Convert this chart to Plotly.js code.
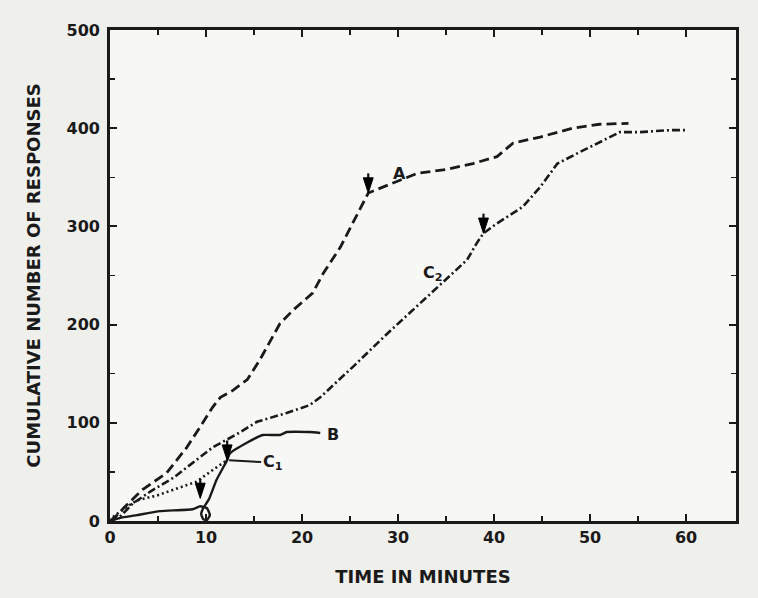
<!DOCTYPE html>
<html>
<head>
<meta charset="utf-8">
<script src="https://cdn.plot.ly/plotly-3.0.1.min.js"></script>
<style>
  html, body { margin: 0; padding: 0; background: #efefec; }
  #chart { width: 758px; height: 598px; }
</style>
</head>
<body>
<div id="chart"></div>
<script>
// Curve A (dashed)
const timeA = [0, 1, 1.4, 3.4, 5.9, 8, 9.4, 10.7, 11.5, 12.8, 14.3, 15.6, 17.7, 19.1, 21.1, 22.2, 24, 26, 26.9, 30.2, 32, 35, 37.8, 40.3, 42, 44.8, 48.2, 51, 54];
const respA = [0, 8, 13, 32, 49, 75, 96, 116, 126, 133, 144, 164, 201, 215, 232, 252, 279, 317, 334, 347, 354, 358, 364, 371, 385, 391, 400, 404, 405];

// Curve B (solid)
const timeB = [0, 1, 2.8, 5.2, 8.6, 9.4, 10.1, 10.4, 10.1, 9.7, 9.5, 9.7, 10.3, 11.1, 12.2, 12.5, 14.3, 15.9, 17.7, 18.4, 20.8, 21.9];
const respB = [0, 3, 6, 10, 12, 15, 13, 6, 1, 2, 7, 13, 22, 42, 62, 69, 80, 87.6, 87.6, 90.6, 90.6, 89.6];

// Curve C1 (dotted)
const timeC1 = [0, 0.3, 1.5, 2.8, 4.9, 7.3, 9, 10.7, 12.2];
const respC1 = [0, 4, 13, 21, 26, 34, 40, 52, 62];

// Curve C2 (dash-dot)
const timeC2 = [0, 1, 2.4, 4.2, 6.6, 8.6, 10.7, 13.5, 15.3, 18.4, 20.8, 21.9, 25.3, 28.9, 33, 35.7, 37.2, 38.2, 38.9, 40.3, 43, 44.8, 46.6, 49, 51.4, 53.1, 55.2, 58.3, 60];
const respC2 = [0, 4, 18, 30, 44, 59, 75, 90, 101, 110, 118, 126, 157, 191, 228, 252, 266, 283, 293, 303, 320, 340, 364, 376, 388, 396, 396, 398, 398];

// Arrow marks: time and response value at the arrow tip
const arrowTimes = [26.9, 38.9, 12.2, 9.4];
const arrowResp = [334, 293, 62, 23];
const arrowShaft = 20; // shaft length in response units

// Curve labels
const labelText = ['A', 'B', 'C<sub>2</sub>'];
const labelTime = [29.3, 22.4, 32.4];
const labelResp = [354, 88, 252];

const ink = '#1a1a1a';
const font = 'DejaVu Sans, Verdana, sans-serif';

// build arrow segments from the arrow arrays
const arrX = [], arrY = [], arrSize = [];
for (let i = 0; i < arrowTimes.length; i++) {
  arrX.push(arrowTimes[i], arrowTimes[i], null);
  arrY.push(arrowResp[i] + arrowShaft, arrowResp[i], null);
  arrSize.push(0, 16, 0);
}

const traces = [
  {x: timeA, y: respA, mode: 'lines', line: {color: ink, width: 2.8, dash: '10px,5px'}, name: 'A'},
  {x: timeB, y: respB, mode: 'lines', line: {color: ink, width: 2.4, shape: 'spline', smoothing: 0.4}, name: 'B'},
  {x: timeC1, y: respC1, mode: 'lines', line: {color: ink, width: 2.6, dash: '2px,3px'}, name: 'C1'},
  {x: timeC2, y: respC2, mode: 'lines', line: {color: ink, width: 2.6, dash: '8px,3px,2px,3px'}, name: 'C2'},
  {x: arrX, y: arrY, mode: 'lines+markers', line: {color: '#111', width: 2.2},
   marker: {symbol: 'arrow', angleref: 'previous', size: arrSize, color: '#000', opacity: 1, line: {color: '#000', width: 1}},
   connectgaps: false, name: 'arrows'}
];

const annotations = [];
for (let i = 0; i < labelText.length; i++) {
  annotations.push({
    x: labelTime[i], y: labelResp[i], xref: 'x', yref: 'y',
    text: labelText[i], showarrow: false, xanchor: 'left',
    font: {family: font, size: 16, color: ink, weight: 'bold'}
  });
}
// C1 label with leader line
annotations.push({
  x: 12.2, y: 62, xref: 'x', yref: 'y', text: 'C<sub>1</sub>',
  showarrow: true, arrowhead: 0, arrowwidth: 2, arrowcolor: ink,
  ax: 34, ay: 2, xanchor: 'left', standoff: 2,
  font: {family: font, size: 16, color: ink, weight: 'bold'}
});

const axisCommon = {
  showgrid: false, zeroline: false, showline: true, linecolor: ink, linewidth: 2.8,
  mirror: 'ticks', ticks: 'inside', ticklen: 7, tickwidth: 2, tickcolor: ink,
  tickfont: {family: font, size: 16, color: ink, weight: 'bold'}
};

const layout = {
  width: 758, height: 598,
  paper_bgcolor: '#efefec', plot_bgcolor: '#f7f7f5',
  margin: {l: 110, r: 22, t: 30, b: 77},
  showlegend: false,
  xaxis: Object.assign({}, axisCommon, {
    range: [0, 65.2], tickvals: [0, 10, 20, 30, 40, 50, 60],
    minor: {tickvals: [5, 15, 25, 35, 45, 55], ticks: 'inside', ticklen: 5, tickwidth: 1.5, tickcolor: ink},
    title: {text: 'TIME IN MINUTES', standoff: 25, font: {family: font, size: 18, color: ink, weight: 'bold'}}
  }),
  yaxis: Object.assign({}, axisCommon, {
    range: [0, 500], tickvals: [0, 100, 200, 300, 400, 500],
    minor: {tickvals: [50, 150, 250, 350, 450], ticks: 'inside', ticklen: 5, tickwidth: 1.5, tickcolor: ink},
    ticklabelstandoff: 4,
    title: {text: 'CUMULATIVE NUMBER OF RESPONSES', standoff: 22, font: {family: font, size: 18, color: ink, weight: 'bold'}}
  }),
  annotations: annotations
};

Plotly.newPlot('chart', traces, layout, {displayModeBar: false, staticPlot: true});
</script>
</body>
</html>
